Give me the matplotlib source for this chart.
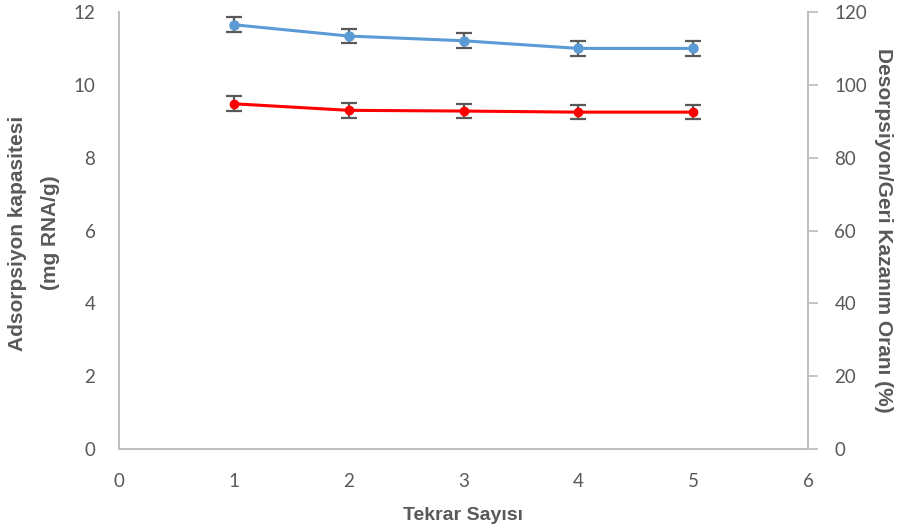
import matplotlib
matplotlib.use("Agg")
import matplotlib.pyplot as plt

# Repeat cycles and measured values
cycles = [1, 2, 3, 4, 5]
adsorption = [11.65, 11.34, 11.21, 11.00, 11.00]       # mg RNA/g (left axis)
adsorption_err = [0.2, 0.2, 0.2, 0.2, 0.2]
recovery = [94.8, 93.0, 92.8, 92.5, 92.5]              # % (right axis)
recovery_err = [2.0, 2.0, 2.0, 2.0, 2.0]

x_ticks = [0, 1, 2, 3, 4, 5, 6]
left_ticks = [0, 2, 4, 6, 8, 10, 12]
right_ticks = [0, 20, 40, 60, 80, 100, 120]

W, H = 899, 532
fig = plt.figure(figsize=(W / 100, H / 100), dpi=100)
ax = fig.add_axes([119 / W, 1 - 449 / H, (808 - 119) / W, (449 - 12) / H])
ax2 = ax.twinx()

tick_font = "Lato"
label_font = ["Liberation Sans Narrow", "Liberation Sans", "DejaVu Sans"]
grey = "#595959"
spine_c = "#BFBFBF"

ax.errorbar(cycles, adsorption, yerr=adsorption_err, color="#5B9BD5", lw=2.2,
            marker="o", ms=6.5, ecolor=grey, elinewidth=1.6, capsize=5.5,
            capthick=1.6, zorder=3)
ax2.errorbar(cycles, recovery, yerr=recovery_err, color="#FF0000", lw=2.2,
             marker="o", ms=6, ecolor=grey, elinewidth=1.6, capsize=5.5,
             capthick=1.6, zorder=3)

ax.set_xlim(0, 6)
ax.set_ylim(0, 12)
ax2.set_ylim(0, 120)
ax.set_xticks(x_ticks)
ax.set_yticks(left_ticks)
ax2.set_yticks(right_ticks)

for a in (ax, ax2):
    a.spines["top"].set_visible(False)
    for s in ("left", "right", "bottom"):
        a.spines[s].set_color(spine_c)
        a.spines[s].set_linewidth(1.3)
    a.patch.set_visible(False)

ax.tick_params(axis="y", length=0, pad=17, labelsize=13.5, labelcolor=grey)
ax.tick_params(axis="x", length=0, pad=17, labelsize=13.5, labelcolor=grey)
ax2.tick_params(axis="y", length=7, width=1.3, color=spine_c, pad=12,
                labelsize=13.5, labelcolor=grey)
for lbl in ax.get_xticklabels() + ax.get_yticklabels() + ax2.get_yticklabels():
    lbl.set_fontfamily(tick_font)

fig.text(18 / W, 1 - 233 / H, "Adsorpsiyon kapasitesi", rotation=90,
         ha="center", va="center", fontsize=15, fontweight="bold",
         color=grey, family=label_font)
fig.text(51 / W, 1 - 233 / H, "(mg RNA/g)", rotation=90,
         ha="center", va="center", fontsize=15, fontweight="bold",
         color=grey, family=label_font)
fig.text(884 / W, 1 - 230 / H, "Desorpsiyon/Geri Kazanım Oranı (%)",
         rotation=270, ha="center", va="center", fontsize=15,
         fontweight="bold", color=grey, family=label_font)
fig.text(463 / W, 1 - 515 / H, "Tekrar Sayısı", ha="center", va="center",
         fontsize=14, fontweight="bold", color=grey, family=label_font)

fig.savefig("out.png", dpi=100)
